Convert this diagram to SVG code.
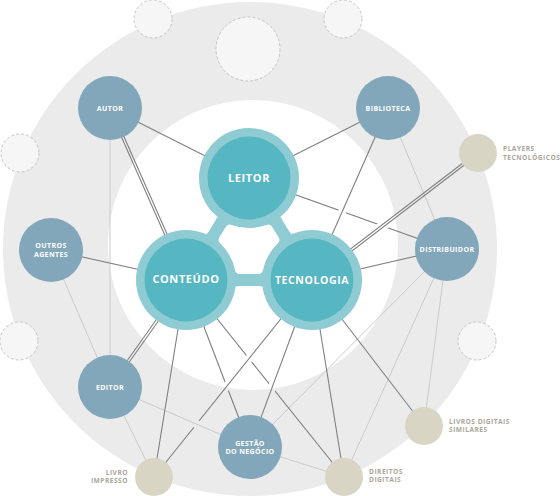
<svg xmlns="http://www.w3.org/2000/svg" width="560" height="496" viewBox="0 0 560 496">
<style>
.dash{fill:#f6f6f6;stroke:#c6c6c6;stroke-width:1;stroke-dasharray:3 2}
.dk{stroke:#7f7f7f;stroke-width:1.1;fill:none}
.lt{stroke:#cacaca;stroke-width:1;fill:none}
.blue{fill:#82a7ba}
.beige{fill:#d9d5c4}
.teal-o{fill:#8fcbd3}
.teal-i{fill:#56b6c2}
.lbl{font-family:"Open Sans","Liberation Sans",sans-serif;font-weight:700;fill:#fff;text-anchor:middle}
.sm{font-size:7px;letter-spacing:0.4px}
.big{font-size:11px;letter-spacing:0.6px}
.ext{font-family:"Open Sans","Liberation Sans",sans-serif;font-weight:700;fill:#aaa699;font-size:6.6px;letter-spacing:0.5px}
.mk{stroke:#000;stroke-width:8}
</style>
<defs>
<mask id="mLD" maskUnits="userSpaceOnUse" x="0" y="0" width="560" height="496">
<rect width="560" height="496" fill="#fff"/>
<line class="mk" x1="388" y1="108" x2="312" y2="280"/>
<line class="mk" style="stroke-width:10" x1="478" y1="153" x2="312" y2="280"/>
</mask>
<mask id="mCD" maskUnits="userSpaceOnUse" x="0" y="0" width="560" height="496">
<rect width="560" height="496" fill="#fff"/>
<line class="mk" x1="312" y1="280" x2="154" y2="477"/>
<line class="mk" x1="312" y1="280" x2="250" y2="447"/>
</mask>
<mask id="mCG" maskUnits="userSpaceOnUse" x="0" y="0" width="560" height="496">
<rect width="560" height="496" fill="#fff"/>
<line class="mk" x1="312" y1="280" x2="154" y2="477"/>
</mask>
<mask id="mTL" maskUnits="userSpaceOnUse" x="0" y="0" width="560" height="496">
<rect width="560" height="496" fill="#fff"/>
<line class="mk" x1="110" y1="387" x2="250" y2="447"/>
</mask>
</defs>

<g id="background">
<circle cx="250" cy="249" r="247" fill="#ebebeb"/>
<circle cx="253" cy="245" r="145" fill="#fff"/>
</g>

<g id="placeholders">
<circle class="dash" cx="153" cy="19" r="19"/>
<circle class="dash" cx="248" cy="49" r="32"/>
<circle class="dash" cx="343" cy="19" r="19"/>
<circle class="dash" cx="20" cy="153" r="19"/>
<circle class="dash" cx="19" cy="341" r="19"/>
<circle class="dash" cx="477" cy="341" r="19"/>
</g>

<g id="connectors">
<line class="lt" x1="110" y1="108" x2="110" y2="387"/>
<line class="lt" x1="51" y1="250" x2="110" y2="387"/>
<line class="lt" x1="388" y1="108" x2="447" y2="249"/>
<line class="lt" x1="447" y1="249" x2="250" y2="447"/>
<line class="lt" x1="447" y1="249" x2="344" y2="477"/>
<line class="lt" x1="447" y1="249" x2="424" y2="426"/>
<line class="lt" x1="110" y1="387" x2="154" y2="477"/>
<line class="lt" x1="110" y1="387" x2="250" y2="447"/>
<line class="lt" x1="250" y1="447" x2="344" y2="477"/>

<line class="dk" x1="110" y1="108" x2="249" y2="178"/>
<line class="dk" x1="51" y1="250" x2="186" y2="280"/>
<line class="dk" x1="388" y1="108" x2="249" y2="178"/>
<line class="dk" x1="388" y1="108" x2="312" y2="280"/>
<line class="dk" x1="249" y1="178" x2="447" y2="249" mask="url(#mLD)"/>
<line class="dk" x1="447" y1="249" x2="312" y2="280"/>
<line class="dk" x1="312" y1="280" x2="424" y2="426"/>
<line class="dk" x1="312" y1="280" x2="344" y2="477"/>
<line class="dk" x1="312" y1="280" x2="250" y2="447"/>
<line class="dk" x1="312" y1="280" x2="154" y2="477" mask="url(#mTL)"/>
<line class="dk" x1="186" y1="280" x2="154" y2="477"/>
<line class="dk" x1="186" y1="280" x2="250" y2="447" mask="url(#mCG)"/>
<line class="dk" x1="186" y1="280" x2="344" y2="477" mask="url(#mCD)"/>

<line class="dk" x1="111.1" y1="107.5" x2="187.1" y2="279.5"/>
<line class="dk" x1="108.9" y1="108.5" x2="184.9" y2="280.5"/>
<line class="dk" x1="111.0" y1="387.7" x2="187.0" y2="280.7"/>
<line class="dk" x1="109.0" y1="386.3" x2="185.0" y2="279.3"/>
<line class="dk" x1="478.7" y1="154.0" x2="312.7" y2="281.0"/>
<line class="dk" x1="477.3" y1="152.0" x2="311.3" y2="279.0"/>
</g>

<g id="core">
<polygon class="teal-o" points="249,178 186,280 312,280" stroke="#8fcbd3" stroke-width="12" stroke-linejoin="round"/>
<circle class="teal-o" cx="249" cy="178" r="50"/>
<circle class="teal-o" cx="186" cy="280" r="50"/>
<circle class="teal-o" cx="312" cy="280" r="50"/>
<path class="teal-o" d="M 235.14 289.26 A 4 4 0 0 1 239.07 286 L 258.93 286 A 4 4 0 0 1 262.86 289.26 L 258.93 280 L 239.07 280 Z"/>
<path class="teal-o" d="M 215.30 214.94 A 4 4 0 0 1 216.01 220.00 L 208.79 231.70 A 4 4 0 0 1 203.94 233.33 L 213.89 234.85 L 221.11 223.15 Z"/>
<path class="teal-o" d="M 282.70 214.94 A 4 4 0 0 0 281.99 220.00 L 289.21 231.70 A 4 4 0 0 0 294.06 233.33 L 284.11 234.85 L 276.89 223.15 Z"/>
<path d="M 239.89 269 L 258.11 269 A 55 55 0 0 1 274.32 239.93 L 267.96 229.64 A 55 55 0 0 1 230.04 229.64 L 223.68 239.93 A 55 55 0 0 1 239.89 269 Z" fill="#fff" stroke="#fff" stroke-width="10" stroke-linejoin="round"/>
</g>

<g id="leitor">
<circle class="teal-i" cx="249" cy="178" r="41.5"/>
<text class="lbl big" x="249" y="182">LEITOR</text>
</g>
<g id="conteudo">
<circle class="teal-i" cx="186" cy="280" r="41.5"/>
<text class="lbl big" x="186" y="283">CONTEÚDO</text>
</g>
<g id="tecnologia">
<circle class="teal-i" cx="312" cy="280" r="41.5"/>
<text class="lbl big" x="312" y="284" style="font-size:10.5px">TECNOLOGIA</text>
</g>

<g id="autor">
<circle class="blue" cx="110" cy="108" r="32"/>
<text class="lbl sm" x="110" y="110.5">AUTOR</text>
</g>
<g id="biblioteca">
<circle class="blue" cx="388" cy="108" r="32"/>
<text class="lbl sm" x="388" y="110.5">BIBLIOTECA</text>
</g>
<g id="outros-agentes">
<circle class="blue" cx="51" cy="250" r="32"/>
<text class="lbl sm" x="51" y="247.5">OUTROS</text>
<text class="lbl sm" x="51" y="256.5">AGENTES</text>
</g>
<g id="distribuidor">
<circle class="blue" cx="447" cy="249" r="32"/>
<text class="lbl sm" x="447" y="251.5">DISTRIBUIDOR</text>
</g>
<g id="editor">
<circle class="blue" cx="110" cy="387" r="32"/>
<text class="lbl sm" x="110" y="389.5">EDITOR</text>
</g>
<g id="gestao">
<circle class="blue" cx="250" cy="447" r="32"/>
<text class="lbl sm" x="250" y="445.5">GESTÃO</text>
<text class="lbl sm" x="250" y="453.5">DO NEGÓCIO</text>
</g>

<g id="players">
<circle class="beige" cx="478" cy="153" r="19"/>
<text class="ext" x="503" y="150.5">PLAYERS</text>
<text class="ext" x="503" y="160">TECNOLÓGICOS</text>
</g>
<g id="livros-digitais">
<circle class="beige" cx="424" cy="426" r="19"/>
<text class="ext" x="449" y="424">LIVROS DIGITAIS</text>
<text class="ext" x="449" y="432">SIMILARES</text>
</g>
<g id="direitos">
<circle class="beige" cx="344" cy="477" r="19"/>
<text class="ext" x="369" y="474">DIREITOS</text>
<text class="ext" x="369" y="482">DIGITAIS</text>
</g>
<g id="livro-impresso">
<circle class="beige" cx="154" cy="477" r="19"/>
<text class="ext" x="128" y="475" text-anchor="end">LIVRO</text>
<text class="ext" x="128" y="483" text-anchor="end">IMPRESSO</text>
</g>
</svg>
